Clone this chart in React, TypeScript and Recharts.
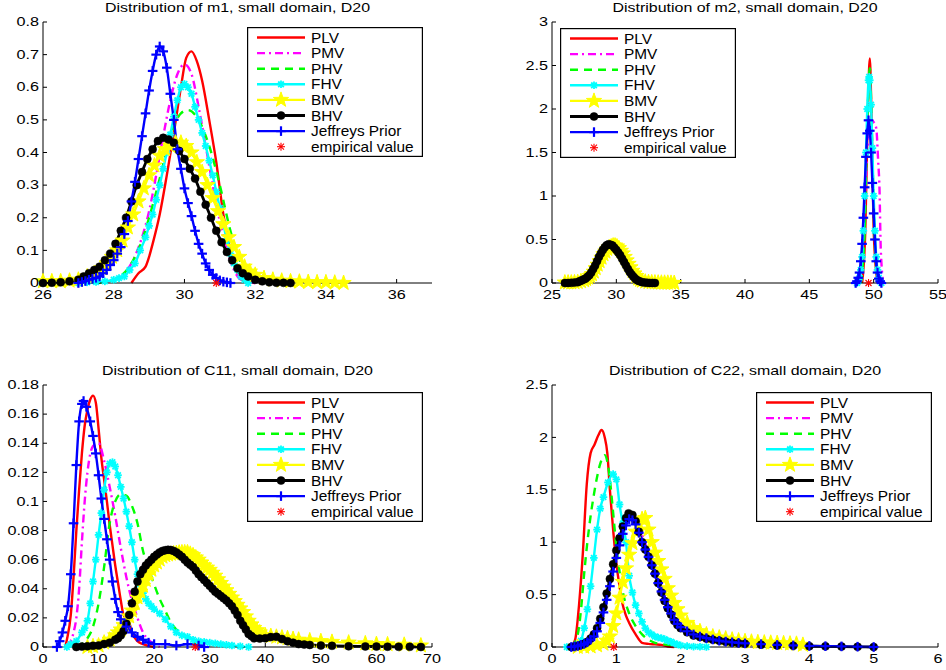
import React from 'react';
import { LineChart, Line, XAxis, YAxis, Legend } from 'recharts';

type Pt = [number, number];

// ---------- m1 ----------
const m1_PLV: Pt[] = [[28.5,0],[28.7,0.03],[28.9,0.05],[29.0,0.08],[29.1,0.12],[29.3,0.21],[29.5,0.33],[29.7,0.46],[29.9,0.6],[30.05,0.69],[30.2,0.71],[30.35,0.68],[30.5,0.62],[30.7,0.5],[30.9,0.37],[31.1,0.21],[31.3,0.1],[31.5,0.03],[31.7,0.005],[32,0]];
const m1_PMV: Pt[] = [[27.5,0],[28,0.01],[28.5,0.06],[28.8,0.14],[29,0.22],[29.2,0.33],[29.4,0.45],[29.6,0.56],[29.8,0.64],[30,0.67],[30.2,0.64],[30.4,0.54],[30.6,0.42],[30.8,0.3],[31,0.19],[31.2,0.1],[31.4,0.04],[31.6,0.01],[32,0]];
const m1_PHV: Pt[] = [[27.5,0],[28,0.01],[28.5,0.06],[28.8,0.13],[29,0.2],[29.3,0.32],[29.6,0.45],[29.9,0.52],[30.1,0.53],[30.4,0.5],[30.7,0.42],[31,0.3],[31.3,0.16],[31.6,0.06],[31.9,0.02],[32.3,0]];
const m1_FHV: Pt[] = [[27,0],[27.25,0.002],[27.5,0.003],[27.75,0.005],[28,0.01],[28.15,0.015],[28.3,0.02],[28.45,0.04],[28.6,0.06],[28.75,0.1],[28.9,0.14],[29,0.175],[29.1,0.21],[29.2,0.255],[29.3,0.3],[29.4,0.35],[29.5,0.4],[29.6,0.455],[29.7,0.51],[29.8,0.56],[29.9,0.6],[30,0.61],[30.1,0.6],[30.2,0.58],[30.3,0.54],[30.4,0.5],[30.5,0.46],[30.6,0.42],[30.7,0.375],[30.8,0.33],[30.9,0.28],[31,0.23],[31.1,0.18],[31.2,0.13],[31.3,0.09],[31.4,0.06],[31.5,0.04],[31.6,0.02],[31.7,0.01],[31.8,0]];
const m1_BMV: Pt[] = [[26,0.005],[26.25,0.005],[26.5,0.005],[26.75,0.007],[27,0.01],[27.25,0.02],[27.5,0.03],[27.65,0.045],[27.8,0.06],[27.95,0.08],[28.1,0.1],[28.25,0.13],[28.4,0.17],[28.55,0.21],[28.7,0.25],[28.85,0.29],[29,0.33],[29.15,0.36],[29.3,0.39],[29.45,0.41],[29.6,0.42],[29.75,0.43],[29.9,0.43],[30.05,0.42],[30.2,0.4],[30.35,0.37],[30.5,0.34],[30.65,0.3],[30.8,0.26],[30.95,0.22],[31.1,0.18],[31.25,0.14],[31.4,0.11],[31.55,0.08],[31.7,0.05],[31.85,0.035],[32,0.025],[32.25,0.015],[32.5,0.01],[32.75,0.007],[33,0.005],[33.25,0.004],[33.5,0.003],[33.75,0.002],[34,0.002],[34.25,0.001],[34.5,0]];
const m1_BHV: Pt[] = [[26,0],[26.25,0.001],[26.5,0.002],[26.75,0.005],[27,0.01],[27.15,0.02],[27.3,0.03],[27.45,0.04],[27.6,0.05],[27.75,0.07],[27.9,0.09],[28.05,0.12],[28.2,0.16],[28.35,0.2],[28.5,0.25],[28.65,0.3],[28.8,0.34],[28.95,0.38],[29.1,0.41],[29.25,0.435],[29.4,0.445],[29.55,0.44],[29.7,0.43],[29.85,0.405],[30,0.38],[30.15,0.35],[30.3,0.32],[30.45,0.28],[30.6,0.24],[30.75,0.2],[30.9,0.16],[31.05,0.125],[31.2,0.095],[31.35,0.07],[31.5,0.045],[31.65,0.03],[31.8,0.02],[32,0.01],[32.2,0.005],[32.4,0.002],[32.6,0.001],[32.8,0.0005],[33,0]];
const m1_JP: Pt[] = [[27,0],[27.1,0.003],[27.2,0.006],[27.3,0.01],[27.4,0.013],[27.5,0.016],[27.6,0.02],[27.7,0.03],[27.8,0.04],[27.9,0.055],[28,0.07],[28.1,0.09],[28.2,0.11],[28.3,0.15],[28.4,0.19],[28.5,0.25],[28.6,0.31],[28.7,0.38],[28.8,0.45],[28.9,0.52],[29,0.59],[29.1,0.65],[29.2,0.7],[29.3,0.725],[29.4,0.71],[29.5,0.66],[29.6,0.58],[29.7,0.5],[29.8,0.41],[29.9,0.35],[30,0.29],[30.1,0.245],[30.2,0.205],[30.3,0.16],[30.4,0.12],[30.5,0.09],[30.6,0.06],[30.7,0.04],[30.8,0.025],[30.9,0.015],[31,0.008],[31.1,0.004],[31.2,0.002],[31.3,0]];
const m1_EMP = 30.9;

// ---------- m2 ----------
const m2_PLV: Pt[] = [[49.1,0],[49.35,0.6],[49.55,2.0],[49.7,2.58],[49.82,2.0],[50.0,0.6],[50.3,0]];
const m2_PMV: Pt[] = [[48.7,0],[49.0,0.2],[49.3,0.9],[49.5,1.5],[49.75,1.88],[50.0,1.85],[50.2,1.78],[50.35,1.4],[50.45,1.1],[50.55,0.4],[50.75,0]];
const m2_PHV: Pt[] = [[49.0,0],[49.3,0.6],[49.5,1.8],[49.7,2.47],[49.85,1.8],[50.05,0.6],[50.35,0]];
const m2_FHV: Pt[] = [[48.7,0],[48.8,0.02],[48.9,0.06],[49.0,0.15],[49.1,0.3],[49.2,0.6],[49.3,1.0],[49.4,1.5],[49.5,2.0],[49.6,2.33],[49.65,2.37],[49.7,2.33],[49.8,2.05],[49.9,1.55],[50.0,1.0],[50.1,0.6],[50.2,0.3],[50.3,0.15],[50.4,0.06],[50.5,0.02],[50.6,0]];
const m2_BMV: Pt[] = m1_BMV;
const m2_BHV: Pt[] = m1_BHV;
const m2_JP: Pt[] = [[48.6,0],[48.7,0.02],[48.8,0.06],[48.9,0.12],[49.0,0.25],[49.1,0.45],[49.2,0.75],[49.3,1.1],[49.4,1.45],[49.5,1.72],[49.6,1.87],[49.7,1.75],[49.8,1.5],[49.9,1.15],[50.0,0.8],[50.1,0.5],[50.2,0.25],[50.3,0.12],[50.4,0.05],[50.5,0.02],[50.6,0]];
const m2_EMP = 49.6;

// ---------- C11 ----------
const c11_PLV: Pt[] = [[4,0],[4.3,0.005],[5,0.022],[5.5,0.048],[6,0.08],[6.5,0.108],[7,0.133],[7.5,0.152],[8,0.163],[8.5,0.17],[9,0.1727],[9.5,0.168],[10,0.15],[10.5,0.13],[11,0.115],[11.5,0.1],[12,0.084],[12.5,0.07],[13,0.056],[13.5,0.044],[14,0.032],[14.5,0.022],[15,0.02],[15.5,0.017],[16,0.01],[17,0.004],[18,0.002],[20,0]];
const c11_PMV: Pt[] = [[4.5,0],[5,0.004],[5.5,0.01],[6,0.02],[6.5,0.04],[7,0.072],[7.5,0.1],[8,0.12],[9,0.138],[10,0.14],[11,0.128],[12,0.11],[13,0.09],[14,0.068],[15,0.048],[16,0.032],[17,0.02],[18,0.01],[19,0.005],[20,0.002],[21,0]];
const c11_PHV: Pt[] = [[6,0],[7,0.002],[8,0.006],[9,0.014],[10,0.03],[11,0.055],[12,0.085],[13,0.1],[14,0.105],[15,0.104],[16,0.097],[17,0.085],[18,0.066],[19,0.054],[20,0.043],[21,0.033],[22,0.025],[23,0.017],[24,0.012],[25,0.009],[26,0.006],[27,0.003],[28,0.001],[29,0]];
const c11_FHV: Pt[] = [[4.3,0],[5,0.002],[6,0.004],[7,0.01],[7.5,0.013],[8,0.018],[8.5,0.03],[9,0.045],[9.5,0.06],[10,0.077],[10.5,0.092],[11,0.108],[11.5,0.12],[12,0.126],[12.5,0.127],[13,0.124],[13.5,0.118],[14,0.11],[14.5,0.102],[15,0.093],[15.5,0.083],[16,0.072],[16.5,0.06],[17,0.05],[17.5,0.043],[18,0.037],[18.5,0.033],[19,0.03],[19.5,0.028],[20,0.026],[21,0.023],[22,0.019],[23,0.014],[24,0.01],[25,0.008],[26,0.007],[27,0.005],[28,0.004],[29,0.0035],[30,0.003],[31,0.0025],[32,0.002],[33,0.0015],[34,0.001],[35.5,0.0005],[37,0]];
const c11_BMV: Pt[] = [[8,0],[9,0.0005],[10,0.001],[11,0.003],[12,0.005],[13,0.008],[13.5,0.01],[14,0.012],[14.5,0.015],[15,0.018],[15.5,0.021],[16,0.025],[16.5,0.03],[17,0.034],[17.5,0.038],[18,0.042],[18.5,0.046],[19,0.05],[19.5,0.053],[20,0.056],[20.5,0.058],[21,0.06],[21.5,0.062],[22,0.063],[22.5,0.0635],[23,0.064],[23.5,0.0643],[24,0.0645],[24.5,0.0648],[25,0.065],[25.5,0.065],[26,0.065],[26.5,0.064],[27,0.063],[27.5,0.0615],[28,0.06],[28.5,0.058],[29,0.056],[29.5,0.0545],[30,0.053],[30.5,0.051],[31,0.049],[31.5,0.0465],[32,0.044],[32.5,0.0415],[33,0.039],[33.5,0.0365],[34,0.034],[34.5,0.0315],[35,0.029],[35.5,0.0265],[36,0.024],[36.5,0.021],[37,0.018],[37.5,0.0155],[38,0.013],[38.5,0.0115],[39,0.01],[40,0.008],[41,0.0075],[42,0.007],[43,0.0065],[44,0.006],[45,0.0055],[46,0.005],[48,0.0045],[50,0.004],[52,0.0035],[55,0.003],[58,0.0025],[60,0.002],[62,0.0018],[65,0.0015],[68,0.001]];
const c11_BHV: Pt[] = [[6,0],[7,0.0003],[8,0.0005],[9,0.0008],[10,0.001],[11,0.002],[12,0.003],[13,0.005],[13.5,0.006],[14,0.008],[14.5,0.011],[15,0.016],[15.5,0.022],[16,0.03],[16.5,0.038],[17,0.045],[17.5,0.05],[18,0.053],[18.5,0.056],[19,0.058],[19.5,0.06],[20,0.062],[20.5,0.0635],[21,0.065],[21.5,0.066],[22,0.0665],[22.5,0.0668],[23,0.0666],[23.5,0.066],[24,0.065],[24.5,0.0635],[25,0.062],[25.5,0.06],[26,0.058],[26.5,0.0565],[27,0.055],[27.5,0.0525],[28,0.05],[28.5,0.048],[29,0.046],[29.5,0.044],[30,0.042],[30.5,0.04],[31,0.038],[31.5,0.0365],[32,0.035],[32.5,0.0335],[33,0.032],[33.5,0.03],[34,0.028],[34.5,0.025],[35,0.022],[35.5,0.018],[36,0.015],[36.5,0.012],[37,0.009],[37.5,0.0075],[38,0.006],[39,0.0058],[40,0.006],[41,0.0068],[42,0.007],[43,0.0055],[44,0.004],[45,0.003],[46,0.002],[47,0.0017],[48,0.0014],[50,0.001],[52,0.0008],[55,0.0005],[58,0.0004],[60,0.0003],[62,0.0002],[64,0.0001],[66,0.0001],[68,0]];
const c11_JP: Pt[] = [[2.5,0],[3,0.004],[3.5,0.01],[4,0.018],[4.5,0.028],[5,0.05],[5.5,0.085],[6,0.125],[6.5,0.155],[7,0.167],[7.3,0.169],[7.8,0.165],[8.5,0.155],[9,0.145],[9.5,0.133],[10,0.118],[10.5,0.102],[11,0.088],[11.5,0.074],[12,0.06],[12.5,0.045],[13,0.033],[13.5,0.024],[14,0.019],[15,0.014],[16,0.01],[17,0.007],[18,0.005],[19,0.003],[20,0.002],[22,0.002],[24,0.001],[26,0.002],[28,0.001],[29,0]];
const c11_EMP = 27.4;

// ---------- C22 ----------
const c22_PLV: Pt[] = [[0.3,0],[0.36,0.07],[0.42,0.4],[0.48,0.9],[0.54,1.55],[0.6,1.85],[0.66,1.93],[0.72,2.02],[0.77,2.07],[0.82,2.0],[0.86,1.85],[0.9,1.5],[0.95,1.12],[1.0,0.8],[1.05,0.58],[1.1,0.4],[1.15,0.3],[1.2,0.23],[1.3,0.12],[1.4,0.04],[1.5,0.03],[1.6,0.025],[1.7,0.02],[1.8,0.005],[1.9,0]];
const c22_PMV: Pt[] = [[0.3,0],[0.5,0.03],[0.7,0.16],[0.9,0.6],[1.1,1.1],[1.2,1.24],[1.3,1.2],[1.5,0.9],[1.7,0.56],[1.9,0.27],[2.1,0.14],[2.4,0.08],[2.8,0.04],[3.2,0.02],[3.6,0.01],[4.0,0]];
const c22_PHV: Pt[] = [[0.3,0],[0.4,0.12],[0.45,0.35],[0.5,0.7],[0.55,1.0],[0.6,1.25],[0.65,1.45],[0.7,1.62],[0.75,1.75],[0.82,1.83],[0.88,1.7],[0.94,1.35],[1.0,0.96],[1.05,0.72],[1.1,0.53],[1.2,0.32],[1.3,0.2],[1.4,0.12],[1.5,0.07],[1.6,0.04],[1.8,0.02],[2.0,0]];
const c22_FHV: Pt[] = [[0.23,0],[0.35,0.01],[0.45,0.06],[0.5,0.18],[0.55,0.36],[0.6,0.58],[0.65,0.85],[0.7,1.12],[0.75,1.32],[0.8,1.43],[0.87,1.57],[0.95,1.65],[1.0,1.6],[1.05,1.36],[1.1,1.18],[1.15,1.0],[1.2,0.68],[1.25,0.52],[1.3,0.4],[1.35,0.32],[1.4,0.24],[1.45,0.18],[1.5,0.14],[1.55,0.12],[1.6,0.1],[1.65,0.09],[1.7,0.085],[1.75,0.075],[1.8,0.06],[1.85,0.05],[1.9,0.035],[1.95,0.025],[2.0,0.015],[2.1,0.008],[2.2,0.003],[2.3,0.002],[2.4,0]];
const c22_BMV: Pt[] = [[0.4,0],[0.5,0.002],[0.6,0.005],[0.7,0.015],[0.8,0.03],[0.85,0.06],[0.9,0.1],[0.95,0.2],[1.0,0.32],[1.05,0.47],[1.1,0.62],[1.15,0.75],[1.2,0.88],[1.25,0.99],[1.3,1.1],[1.35,1.17],[1.4,1.22],[1.45,1.23],[1.5,1.12],[1.55,1.0],[1.6,0.9],[1.65,0.82],[1.7,0.74],[1.75,0.65],[1.8,0.56],[1.85,0.49],[1.9,0.42],[1.95,0.36],[2.0,0.3],[2.1,0.23],[2.2,0.18],[2.3,0.15],[2.4,0.12],[2.5,0.1],[2.6,0.09],[2.7,0.08],[2.8,0.07],[2.9,0.062],[3.0,0.055],[3.1,0.05],[3.2,0.045],[3.3,0.042],[3.4,0.04],[3.5,0.037],[3.6,0.035],[3.7,0.032],[3.8,0.03],[3.9,0.02]];
const c22_BHV: Pt[] = [[0.3,0],[0.35,0.005],[0.4,0.01],[0.45,0.02],[0.5,0.03],[0.55,0.05],[0.6,0.08],[0.65,0.12],[0.7,0.18],[0.75,0.27],[0.8,0.38],[0.85,0.51],[0.9,0.65],[0.95,0.79],[1.0,0.92],[1.05,1.04],[1.1,1.15],[1.15,1.23],[1.19,1.275],[1.25,1.26],[1.3,1.2],[1.35,1.1],[1.4,1.0],[1.45,0.93],[1.5,0.86],[1.55,0.78],[1.6,0.7],[1.65,0.61],[1.7,0.52],[1.75,0.44],[1.8,0.37],[1.85,0.31],[1.9,0.25],[1.95,0.21],[2.0,0.18],[2.1,0.14],[2.2,0.11],[2.3,0.095],[2.4,0.08],[2.5,0.07],[2.6,0.06],[2.7,0.05],[2.8,0.04],[2.9,0.035],[3.0,0.03],[3.25,0.022],[3.5,0.015],[3.75,0.011],[4.0,0.008],[4.25,0.006],[4.5,0.004],[4.75,0.002],[5.0,0]];
const c22_JP: Pt[] = [[0.3,0],[0.35,0.005],[0.4,0.01],[0.45,0.02],[0.5,0.03],[0.55,0.045],[0.6,0.07],[0.65,0.1],[0.7,0.15],[0.75,0.23],[0.8,0.33],[0.85,0.45],[0.9,0.58],[0.95,0.72],[1.0,0.85],[1.05,0.97],[1.1,1.08],[1.15,1.16],[1.2,1.22],[1.25,1.21],[1.3,1.17],[1.35,1.09],[1.4,1.0],[1.45,0.93],[1.5,0.86],[1.55,0.78],[1.6,0.7],[1.65,0.61],[1.7,0.53],[1.75,0.45],[1.8,0.38],[1.85,0.32],[1.9,0.26],[1.95,0.22],[2.0,0.19],[2.1,0.15],[2.2,0.12],[2.3,0.1],[2.4,0.085],[2.5,0.072],[2.6,0.06],[2.7,0.052],[2.8,0.045],[2.9,0.04],[3.0,0.035],[3.25,0.027],[3.5,0.02],[3.75,0.015],[4.0,0.01],[4.25,0.008],[4.5,0.006],[4.75,0.003],[5.0,0]];
const c22_EMP = 0.96;

// ---------- axes ----------
const m1_xTicks = [26, 28, 30, 32, 34, 36];
const m1_yTicks = [0, 0.1, 0.2, 0.3, 0.4, 0.5, 0.6, 0.7, 0.8];
const m2_xTicks = [25, 30, 35, 40, 45, 50, 55];
const m2_yTicks = [0, 0.5, 1, 1.5, 2, 2.5, 3];
const c11_xTicks = [0, 10, 20, 30, 40, 50, 60, 70];
const c11_yTicks = [0, 0.02, 0.04, 0.06, 0.08, 0.1, 0.12, 0.14, 0.16, 0.18];
const c22_xTicks = [0, 1, 2, 3, 4, 5, 6];
const c22_yTicks = [0, 0.5, 1, 1.5, 2, 2.5];

const SERIES_NAMES = ['PLV', 'PMV', 'PHV', 'FHV', 'BMV', 'BHV', 'Jeffreys Prior'];
const EMP_NAME = 'empirical value';

type MarkerKind = 'none' | 'x' | 'star' | 'circle' | 'plus' | 'asterisk';
interface Style { color: string; width: number; dash?: string; marker: MarkerKind; }
const STYLES: Style[] = [
  { color: '#ff0000', width: 2.4, marker: 'none' },
  { color: '#ff00ff', width: 2.4, dash: '8 4 2 4', marker: 'none' },
  { color: '#00ff00', width: 2.4, dash: '8 6', marker: 'none' },
  { color: '#00ffff', width: 2.4, marker: 'x' },
  { color: '#ffff00', width: 2.4, marker: 'star' },
  { color: '#000000', width: 2.8, marker: 'circle' },
  { color: '#0000ff', width: 2.4, marker: 'plus' },
];

const FONT = '"Liberation Sans", Arial, Helvetica, sans-serif';

function starPoints(cx: number, cy: number, R: number, r: number) {
  const pts: string[] = [];
  for (let i = 0; i < 10; i++) {
    const a = -Math.PI / 2 + (i * Math.PI) / 5;
    const rad = i % 2 === 0 ? R : r;
    pts.push(`${cx + rad * Math.cos(a)},${cy + rad * Math.sin(a)}`);
  }
  return pts.join(' ');
}

function Marker({ kind, cx, cy, color }: { kind: MarkerKind; cx: number; cy: number; color: string }) {
  switch (kind) {
    case 'x':
      return (
        <g stroke={color} strokeWidth={1.8}>
          <line x1={cx - 3.8} y1={cy} x2={cx + 3.8} y2={cy} />
          <line x1={cx} y1={cy - 3.8} x2={cx} y2={cy + 3.8} />
          <line x1={cx - 2.8} y1={cy - 2.8} x2={cx + 2.8} y2={cy + 2.8} />
          <line x1={cx - 2.8} y1={cy + 2.8} x2={cx + 2.8} y2={cy - 2.8} />
        </g>
      );
    case 'star':
      return <polygon points={starPoints(cx, cy, 8, 3.2)} fill={color} stroke={color} strokeWidth={1} />;
    case 'circle':
      return <circle cx={cx} cy={cy} r={4} fill={color} stroke={color} strokeWidth={0.5} />;
    case 'plus':
      return (
        <g stroke={color} strokeWidth={2.2}>
          <line x1={cx - 4.8} y1={cy} x2={cx + 4.8} y2={cy} />
          <line x1={cx} y1={cy - 4.8} x2={cx} y2={cy + 4.8} />
        </g>
      );
    case 'asterisk':
      return (
        <g stroke={color} strokeWidth={1.1}>
          <line x1={cx - 4} y1={cy} x2={cx + 4} y2={cy} />
          <line x1={cx} y1={cy - 4} x2={cx} y2={cy + 4} />
          <line x1={cx - 3} y1={cy - 3} x2={cx + 3} y2={cy + 3} />
          <line x1={cx - 3} y1={cy + 3} x2={cx + 3} y2={cy - 3} />
        </g>
      );
    default:
      return null;
  }
}

const XTick = (props: any) => {
  const { x, y, payload } = props;
  return (
    <text transform={`translate(${x},${y}) scale(1.35,1)`} x={0} y={0} dy="0.35em" textAnchor="middle"
      fontSize={12} fontFamily={FONT} fill="#000">{String(payload.value)}</text>
  );
};
const YTick = (props: any) => {
  const { x, y, payload } = props;
  return (
    <text transform={`translate(${x},${y}) scale(1.35,1)`} x={0} y={0} dy="0.35em" textAnchor="end"
      fontSize={12} fontFamily={FONT} fill="#000">{String(payload.value)}</text>
  );
};

const LEG_W = 176;
const LEG_H = 130;

// Overlay drawn through the Legend slot: title above the plot and the boxed legend.
function Overlay({ spec }: { spec: PanelSpec }) {
  const rows = [...SERIES_NAMES, EMP_NAME];
  const lx = spec.legend.x - spec.left;
  const ly = spec.legend.y - spec.top;
  const titleX = (spec.plot.l + spec.plot.r) / 2 - spec.left;
  const titleY = spec.plot.t - spec.top - 14.5;
  return (
    <svg width={spec.width} height={spec.height} style={{ display: 'block', overflow: 'visible' }}>
      <text transform={`translate(${titleX},${titleY}) scale(1.33,1)`} x={0} y={0} dy="0.35em" textAnchor="middle"
        fontSize={12} fontFamily={FONT} fill="#000">{spec.title}</text>
      <g transform={`translate(${lx},${ly})`}>
        <rect x={0.6} y={0.6} width={LEG_W - 1.2} height={LEG_H - 1.2} fill="#fff" stroke="#000" strokeWidth={1.2} />
        {rows.map((name, i) => {
          const y = 10.5 + i * 15.6;
          const st = i < STYLES.length ? STYLES[i] : null;
          return (
            <g key={name}>
              {st && (
                <line x1={10} x2={58} y1={y} y2={y} stroke={st.color} strokeWidth={st.width} strokeDasharray={st.dash} />
              )}
              {st ? (
                <Marker kind={st.marker} cx={34} cy={y} color={st.color} />
              ) : (
                <Marker kind="asterisk" cx={34} cy={y} color="#ff0000" />
              )}
              <text transform={`translate(64,${y}) scale(1.1,1)`} x={0} y={0} dy="0.36em" fontSize={14}
                fontFamily={FONT} fill="#000">{name}</text>
            </g>
          );
        })}
      </g>
    </svg>
  );
}

interface PanelSpec {
  title: string;
  left: number; top: number; width: number; height: number;
  plot: { l: number; t: number; r: number; b: number };
  xDomain: [number, number]; xTicks: number[];
  yDomain: [number, number]; yTicks: number[];
  series: Pt[][];
  emp: number;
  legend: { x: number; y: number };
}

const toRows = (pts: Pt[]) => pts.map(([x, y]) => ({ x, y }));

function Panel({ spec }: { spec: PanelSpec }) {
  const { left, top, width, height, plot } = spec;
  const xAxisH = 20;
  const margin = { top: plot.t - top, right: left + width - plot.r, bottom: top + height - plot.b - xAxisH, left: 0 };
  return (
    <div style={{ position: 'absolute', left, top, width, height }}>
      <LineChart width={width} height={height} margin={margin}>
        <XAxis dataKey="x" type="number" domain={spec.xDomain} ticks={spec.xTicks} interval={0} height={xAxisH}
          tickSize={-4} tickMargin={16} tick={<XTick />} axisLine={{ stroke: '#000' }} tickLine={{ stroke: '#000' }} />
        <XAxis xAxisId="top" orientation="top" dataKey="x" type="number" domain={spec.xDomain} ticks={spec.xTicks}
          interval={0} height={0} tickSize={-4} tick={false} axisLine={{ stroke: '#000' }} tickLine={{ stroke: '#000' }} />
        <YAxis type="number" domain={spec.yDomain} ticks={spec.yTicks} interval={0} width={plot.l - left}
          tickSize={-4} tickMargin={8} tick={<YTick />} axisLine={{ stroke: '#000' }} tickLine={{ stroke: '#000' }} />
        <YAxis yAxisId="right" orientation="right" type="number" domain={spec.yDomain} ticks={spec.yTicks} interval={0}
          width={0} tickSize={-4} tick={false} axisLine={{ stroke: '#000' }} tickLine={{ stroke: '#000' }} />
        <Legend layout="vertical" align="center" verticalAlign="middle"
          wrapperStyle={{ left: 0, top: 0, width, height, pointerEvents: 'none' }}
          content={() => <Overlay spec={spec} />} />
        {spec.series.map((pts, i) => {
          const st = STYLES[i];
          return (
            <Line key={SERIES_NAMES[i]} name={SERIES_NAMES[i]} data={toRows(pts)} dataKey="y" type="monotone"
              stroke={st.color} strokeWidth={st.width} strokeDasharray={st.dash}
              dot={st.marker === 'none' ? false : (p: any) => (
                p.cx == null || p.cy == null ? <g key={`e${i}-${p.index}`} /> :
                <Marker key={`m${i}-${p.index}`} kind={st.marker} cx={p.cx} cy={p.cy} color={st.color} />
              )}
              activeDot={false} isAnimationActive={false} legendType="none" />
          );
        })}
        <Line name={EMP_NAME} data={[{ x: spec.emp, y: 0 }]} dataKey="y" stroke="none"
          dot={(p: any) => <Marker key={`emp-${p.index}`} kind="asterisk" cx={p.cx} cy={p.cy} color="#ff0000" />}
          activeDot={false} isAnimationActive={false} legendType="none" />
      </LineChart>
    </div>
  );
}

const PANELS: PanelSpec[] = [
  {
    title: 'Distribution of m1, small domain, D20',
    left: 0, top: 0, width: 470, height: 335,
    plot: { l: 43, t: 22, r: 432, b: 283 },
    xDomain: [26, 37], xTicks: m1_xTicks, yDomain: [0, 0.8], yTicks: m1_yTicks,
    series: [m1_PLV, m1_PMV, m1_PHV, m1_FHV, m1_BMV, m1_BHV, m1_JP], emp: m1_EMP,
    legend: { x: 247, y: 27 },
  },
  {
    title: 'Distribution of m2, small domain, D20',
    left: 470, top: 0, width: 476, height: 335,
    plot: { l: 552, t: 22, r: 938, b: 283 },
    xDomain: [25, 55], xTicks: m2_xTicks, yDomain: [0, 3], yTicks: m2_yTicks,
    series: [m2_PLV, m2_PMV, m2_PHV, m2_FHV, m2_BMV, m2_BHV, m2_JP], emp: m2_EMP,
    legend: { x: 560, y: 28 },
  },
  {
    title: 'Distribution of C11, small domain, D20',
    left: 0, top: 335, width: 470, height: 335,
    plot: { l: 43, t: 385, r: 432, b: 647 },
    xDomain: [0, 70], xTicks: c11_xTicks, yDomain: [0, 0.18], yTicks: c11_yTicks,
    series: [c11_PLV, c11_PMV, c11_PHV, c11_FHV, c11_BMV, c11_BHV, c11_JP], emp: c11_EMP,
    legend: { x: 247, y: 392 },
  },
  {
    title: 'Distribution of C22, small domain, D20',
    left: 470, top: 335, width: 476, height: 335,
    plot: { l: 552, t: 385, r: 938, b: 647 },
    xDomain: [0, 6], xTicks: c22_xTicks, yDomain: [0, 2.5], yTicks: c22_yTicks,
    series: [c22_PLV, c22_PMV, c22_PHV, c22_FHV, c22_BMV, c22_BHV, c22_JP], emp: c22_EMP,
    legend: { x: 756, y: 392 },
  },
];

export default function App() {
  return (
    <div style={{ position: 'absolute', left: 0, top: 0, width: 946, height: 670, background: '#fff', overflow: 'hidden' }}>
      {PANELS.map((p) => <Panel key={p.title} spec={p} />)}
    </div>
  );
}
